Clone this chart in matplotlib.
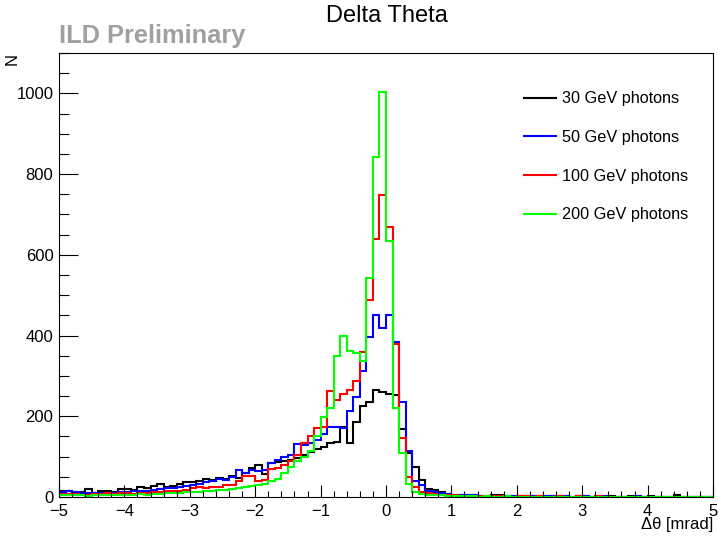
import matplotlib.pyplot as plt
import numpy as np
from matplotlib.ticker import MultipleLocator

plt.rcParams["font.family"] = ["Liberation Sans", "DejaVu Sans"]

# 100 bins of 0.1 mrad over [-5, 5]
bin_edges = np.linspace(-5.0, 5.0, 101)

counts_30gev = [
    15, 14, 12, 12, 20, 11, 16, 14, 13, 19,
    20, 18, 24, 22, 28, 32, 26, 28, 33, 36,
    36, 40, 45, 42, 48, 45, 52, 47, 60, 72,
    79, 58, 84, 86, 90, 92, 96, 104, 112, 120,
    125, 135, 137, 173, 134, 186, 225, 236, 265, 261,
    255, 252, 168, 110, 75, 42, 21, 17, 12, 8,
    6, 5, 4, 4, 3, 3, 4, 5, 3, 2,
    3, 2, 3, 2, 2, 3, 2, 2, 1, 2,
    2, 1, 2, 1, 2, 1, 1, 2, 1, 1,
    2, 1, 1, 1, 5, 1, 1, 1, 1, 1,
]
counts_50gev = [
    12, 14, 12, 10, 10, 11, 9, 10, 11, 12,
    12, 14, 15, 16, 18, 20, 22, 22, 24, 28,
    30, 32, 36, 40, 44, 42, 50, 66, 60, 66,
    64, 66, 84, 92, 100, 103, 131, 129, 133, 140,
    156, 174, 174, 170, 214, 248, 313, 397, 450, 419,
    450, 384, 236, 115, 40, 29, 15, 12, 10, 8,
    6, 5, 4, 4, 3, 3, 2, 3, 2, 2,
    2, 3, 2, 1, 2, 2, 1, 2, 1, 1,
    2, 1, 1, 2, 1, 1, 1, 1, 2, 1,
    1, 1, 1, 1, 1, 1, 1, 1, 1, 1,
]
counts_100gev = [
    8, 7, 8, 6, 5, 7, 8, 9, 8, 10,
    9, 8, 11, 10, 12, 12, 14, 15, 16, 18,
    22, 24, 23, 24, 26, 30, 30, 40, 53, 52,
    40, 42, 70, 73, 80, 90, 104, 133, 152, 172,
    174, 263, 240, 255, 265, 287, 360, 487, 639, 748,
    669, 380, 145, 50, 26, 12, 10, 7, 5, 4,
    4, 3, 3, 2, 3, 2, 2, 3, 2, 1,
    2, 2, 1, 2, 1, 1, 2, 1, 1, 2,
    1, 1, 2, 1, 1, 1, 1, 1, 1, 1,
    1, 1, 1, 1, 1, 1, 1, 1, 1, 1,
]
counts_200gev = [
    5, 4, 5, 4, 3, 4, 5, 4, 5, 5,
    6, 6, 7, 6, 8, 8, 9, 10, 10, 12,
    12, 13, 14, 15, 17, 18, 20, 22, 25, 27,
    30, 32, 40, 44, 60, 75, 89, 100, 115, 150,
    197, 221, 349, 398, 361, 357, 337, 542, 843, 1003,
    635, 221, 108, 31, 12, 8, 6, 5, 4, 3,
    3, 2, 2, 2, 1, 2, 1, 1, 2, 1,
    1, 1, 1, 1, 1, 1, 1, 1, 1, 1,
    1, 1, 1, 1, 1, 1, 1, 1, 1, 1,
    1, 1, 1, 1, 1, 1, 1, 1, 1, 1,
]

series = [counts_30gev, counts_50gev, counts_100gev, counts_200gev]
labels = ["30 GeV photons", "50 GeV photons", "100 GeV photons", "200 GeV photons"]
colors = ["#000000", "#0000ff", "#ff0000", "#00ff00"]

W, H = 718, 537
fig = plt.figure(figsize=(W / 100, H / 100), dpi=100)
ax = fig.add_axes([59 / W, 1 - 497 / H, 654 / W, 444 / H])

for vals, col, lab in zip(series, colors, labels):
    ax.stairs(vals, bin_edges, color=col, linewidth=1.5, baseline=None, label=lab)

ax.set_xlim(-5, 5)
ax.set_ylim(0, 1100)
ax.xaxis.set_major_locator(MultipleLocator(1))
ax.xaxis.set_minor_locator(MultipleLocator(0.2))
ax.yaxis.set_major_locator(MultipleLocator(200))
ax.yaxis.set_minor_locator(MultipleLocator(50))
ax.tick_params(which="both", direction="in", top=False, right=False,
               width=0.8, labelsize=12)
ax.tick_params(axis="x", which="major", length=8.6, pad=5)
ax.tick_params(axis="x", which="minor", length=4)
ax.tick_params(axis="y", which="major", length=13.5, pad=4)
ax.tick_params(axis="y", which="minor", length=7)
for sp in ax.spines.values():
    sp.set_linewidth(0.8)

ax.set_xlabel("Δθ [mrad]", loc="right", fontsize=12)
ax.xaxis.set_label_coords(1.0, -(525 - 497) / 444)
ax.xaxis.label.set_va("center")
ax.set_ylabel("N", loc="top", fontsize=12)
ax.yaxis.set_label_coords(-(59 - 20) / 654, 1.0)

ax.legend(loc="upper left", bbox_to_anchor=(524 / W, 1 - 91.5 / H),
          bbox_transform=fig.transFigure, frameon=False, fontsize=11.7,
          handlelength=1.97, handletextpad=0.37, labelspacing=1.45,
          borderpad=0, borderaxespad=0)

fig.text(386.5 / W, 1 - 16 / H, "Delta Theta", ha="center", va="center",
         fontsize=17)
fig.text(59 / W, 1 - 36 / H, "ILD Preliminary", ha="left", va="center",
         fontsize=18.3, fontweight="bold", color="#a0a0a0")

fig.savefig("out.png", dpi=100)
